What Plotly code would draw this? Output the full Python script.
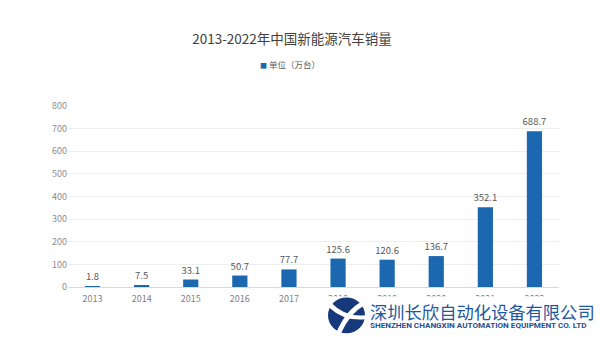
import plotly.graph_objects as go

years = ["2013", "2014", "2015", "2016", "2017", "2018", "2019", "2020", "2021", "2022"]
sales = [1.8, 7.5, 33.1, 50.7, 77.7, 125.6, 120.6, 136.7, 352.1, 688.7]
value_labels = ["1.8", "7.5", "33.1", "50.7", "77.7", "125.6", "120.6", "136.7", "352.1", "688.7"]
y_ticks = [0, 100, 200, 300, 400, 500, 600, 700, 800]
title_text = "2013-2022年中国新能源汽车销量"
legend_name = "单位（万台）"
company_cn = "深圳长欣自动化设备有限公司"
company_en = "SHENZHEN CHANGXIN AUTOMATION EQUIPMENT CO. LTD"

W, H = 600, 337
L, R, T, B = 68, 559, 105.5, 287.5
BAR = "#1c68b0"
FONT = "Noto Sans CJK SC"


def px(x):
    return (x - L) / (R - L)


def py(y):
    return (B - y) / (B - T)


fig = go.Figure()
fig.add_trace(go.Bar(
    x=years, y=sales, text=value_labels, textposition="outside",
    constraintext="none",
    textfont=dict(size=9.5, color="#595959", family=FONT),
    marker=dict(color=BAR, line=dict(width=0)),
    cliponaxis=False, showlegend=False, name=legend_name,
))

shapes = [
    # white backing of the watermark
    dict(type="rect", xref="paper", yref="paper", layer="above",
         x0=px(325), x1=px(600), y0=py(337), y1=py(297),
         fillcolor="white", line=dict(width=0)),
    # logo circle
    dict(type="circle", xref="paper", yref="paper", layer="above",
         x0=px(328), x1=px(365), y0=py(334), y1=py(298),
         fillcolor="#15397a", line=dict(width=0)),
]


def P(x, y):
    return f"{px(x):.5f},{py(y):.5f}"


# white swooshes of the logo
shapes.append(dict(type="path", xref="paper", yref="paper", layer="above",
                   path=f"M{P(331, 303)} Q{P(345, 318)} {P(365, 316)} L{P(365, 320)} Q{P(344, 322)} {P(329, 308)} Z",
                   fillcolor="white", line=dict(width=0)))
shapes.append(dict(type="path", xref="paper", yref="paper", layer="above",
                   path=f"M{P(362, 302)} Q{P(346, 310)} {P(336, 334)} L{P(341, 334)} Q{P(350, 314)} {P(364, 306)} Z",
                   fillcolor="white", line=dict(width=0)))

annotations = [
    # legend
    dict(text=f"<span style='color:{BAR};font-size:7px'>■</span> {legend_name}",
         xref="paper", yref="paper", x=px(258), y=py(63),
         xanchor="left", yanchor="middle", showarrow=False,
         font=dict(size=8.5, color="#595959", family=FONT)),
    dict(text=company_cn, xref="paper", yref="paper", x=px(368), y=py(312),
         xanchor="left", yanchor="middle", showarrow=False,
         font=dict(size=17.3, color="#1f57a0", family=FONT)),
    dict(text=f"<b>{company_en}</b>", xref="paper", yref="paper", x=px(368), y=py(325.5),
         xanchor="left", yanchor="middle", showarrow=False,
         font=dict(size=8.1, color="#1f4f8f", family="Roboto"),),
]

fig.update_layout(
    width=W, height=H,
    margin=dict(l=L, r=W - R, t=T, b=H - B, pad=0),
    paper_bgcolor="white", plot_bgcolor="white",
    bargap=0.69,
    showlegend=False,
    font=dict(family=FONT, color="#7f7f7f", size=9),
    title=dict(text=title_text, x=292 / W, xref="container", xanchor="center",
               y=1 - 39 / H, yref="container", yanchor="middle",
               font=dict(size=13.5, color="#404040", family=FONT)),
    xaxis=dict(type="category", showgrid=False, showline=True, linecolor="#d9d9d9",
               linewidth=1, ticks="", ticklabelstandoff=3,
               tickfont=dict(size=9, color="#7f7f7f")),
    yaxis=dict(range=[0, 800], tickvals=y_ticks, showgrid=True, gridcolor="#eeeeee",
               gridwidth=1, zeroline=False, showline=False, ticks="",
               tickfont=dict(size=9, color="#8c8c8c")),
    shapes=shapes, annotations=annotations,
)

fig.write_html("out.html")
